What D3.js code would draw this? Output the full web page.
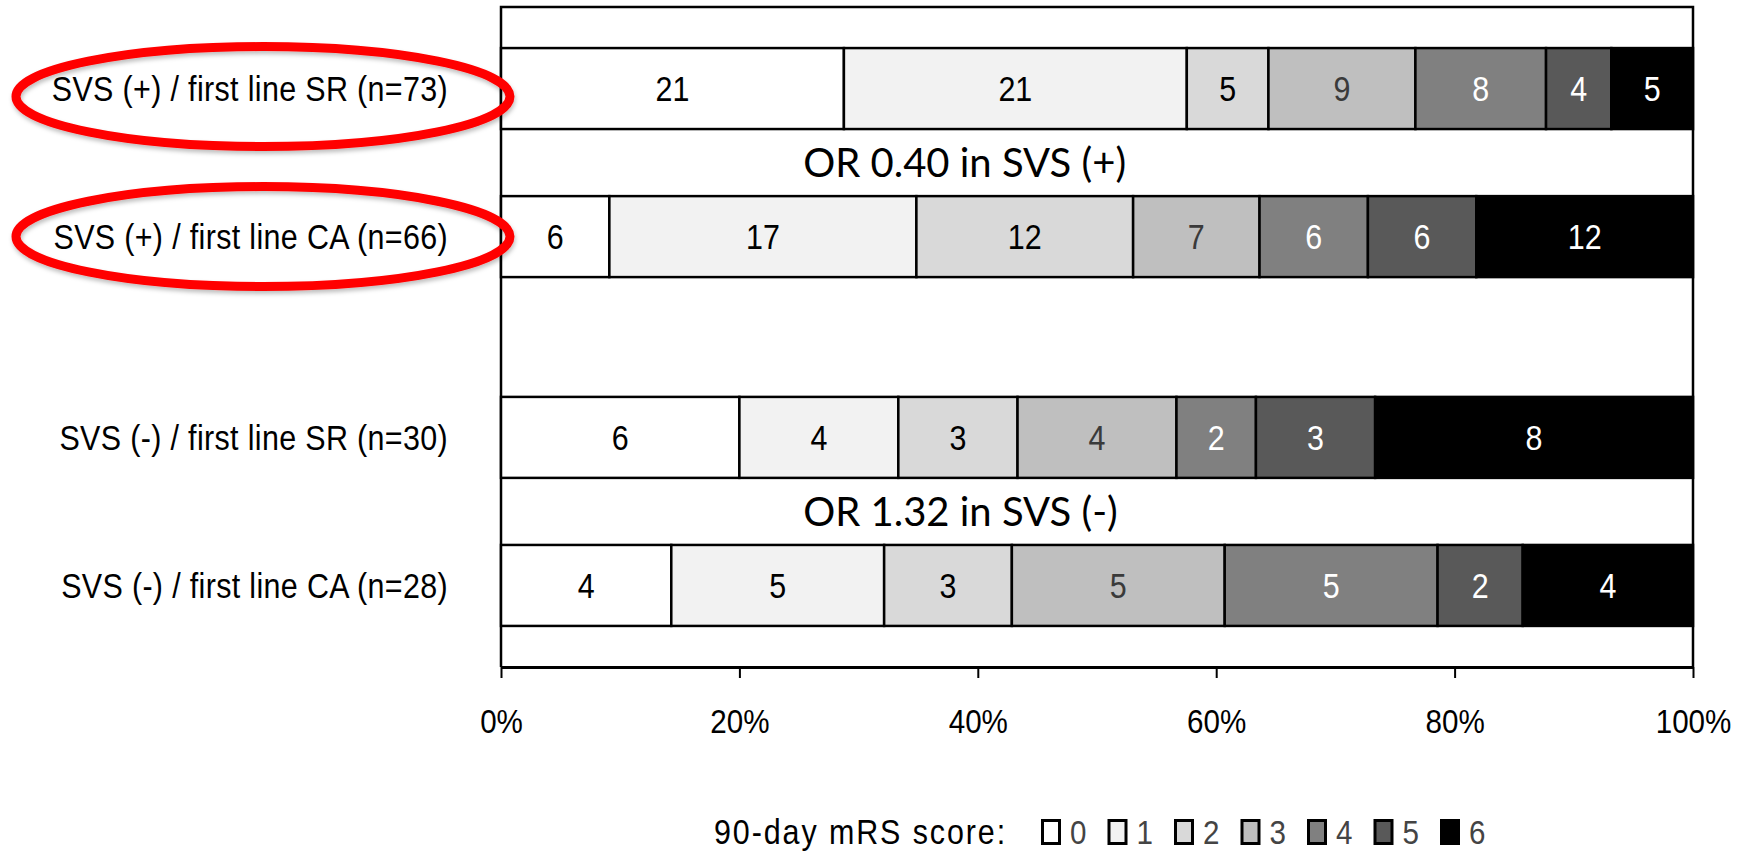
<!DOCTYPE html>
<html>
<head>
<meta charset="utf-8">
<script src="https://cdn.jsdelivr.net/npm/d3@7"></script>
<style>
  html, body { margin: 0; padding: 0; background: #ffffff; }
  svg { display: block; }
  .narrow { font-family: "Liberation Sans", Arial, sans-serif; }
</style>
</head>
<body>
<svg id="chart" width="1743" height="851"></svg>
<script>
// ---- data ----
const groups = ["SVS (+)", "SVS (-)"];
const treatments = ["SR", "CA"];
const categories = [
  "SVS (+) / first line SR (n=73)",
  "SVS (+) / first line CA (n=66)",
  "SVS (-) / first line SR (n=30)",
  "SVS (-) / first line CA (n=28)"
];
const rowGroup = ["SVS (+)", "SVS (+)", "SVS (-)", "SVS (-)"];
const rowTreatment = ["SR", "CA", "SR", "CA"];
const scores = ["0", "1", "2", "3", "4", "5", "6"];
const counts = [
  [21, 21, 5, 9, 8, 4, 5],
  [6, 17, 12, 7, 6, 6, 12],
  [6, 4, 3, 4, 2, 3, 8],
  [4, 5, 3, 5, 5, 2, 4]
];
const orTexts = ["OR 0.40 in SVS (+)", "OR 1.32 in SVS (-)"];
const highlighted = [true, true, false, false];
const xTicks = [0, 0.2, 0.4, 0.6, 0.8, 1.0];
const legendTitle = "90-day mRS score:";

// ---- styles ----
const fills = ["#ffffff", "#f2f2f2", "#d9d9d9", "#bfbfbf", "#808080", "#595959", "#000000"];
const labelColors = ["#000000", "#000000", "#000000", "#3a3a3a", "#ffffff", "#ffffff", "#ffffff"];
const SX = 0.87; // horizontal compression of the narrow chart font

const svg = d3.select("#chart");
const plotLeft = 501, plotRight = 1693, plotTop = 7, plotBottom = 667;

const x = d3.scaleLinear().domain([0, 1]).range([plotLeft, plotRight]);
const y0 = d3.scaleBand().domain(groups).range([plotTop, plotBottom])
  .paddingInner(0.2).paddingOuter(0.046);
const y1 = d3.scaleBand().domain(treatments).range([0, y0.bandwidth()])
  .paddingInner(0.453).paddingOuter(0.169);
const rowY = i => y0(rowGroup[i]) + y1(rowTreatment[i]);
const barH = y1.bandwidth();

const narrowAt = (px, py) => `translate(${px},${py}) scale(${SX},1)`;

// shadow filter for ellipses
const defs = svg.append("defs");
const f = defs.append("filter").attr("id", "sh").attr("x", "-10%").attr("y", "-20%").attr("width", "120%").attr("height", "150%");
f.append("feDropShadow").attr("dx", 1).attr("dy", 3).attr("stdDeviation", 2)
  .attr("flood-color", "#000").attr("flood-opacity", 0.25);

// plot frame (top, left, right)
svg.append("path")
  .attr("d", `M${plotLeft},${plotBottom}V${plotTop}H${plotRight}V${plotBottom}`)
  .attr("fill", "none").attr("stroke", "#000").attr("stroke-width", 2.5);

// stacked bars
const stacked = counts.map(row => {
  const total = d3.sum(row);
  let acc = 0;
  return row.map((v, k) => {
    const s = acc / total; acc += v;
    return { k, v, x0: s, x1: acc / total };
  });
});

const rows = svg.append("g").selectAll("g").data(stacked).join("g")
  .attr("transform", (d, i) => `translate(0,${rowY(i)})`);

rows.selectAll("rect").data(d => d).join("rect")
  .attr("x", d => x(d.x0))
  .attr("y", 0)
  .attr("width", d => x(d.x1) - x(d.x0))
  .attr("height", barH)
  .attr("fill", d => fills[d.k])
  .attr("stroke", "#000")
  .attr("stroke-width", 2.5);

rows.selectAll("text").data(d => d).join("text")
  .attr("class", "narrow")
  .attr("transform", d => narrowAt((x(d.x0) + x(d.x1)) / 2, barH / 2))
  .attr("dy", "0.36em")
  .attr("text-anchor", "middle")
  .attr("font-size", 35)
  .attr("fill", d => labelColors[d.k])
  .text(d => d.v);

// OR annotations between paired bars
groups.forEach((g, gi) => {
  const yTopBarBottom = y0(g) + y1("SR") + barH;
  const yNextTop = y0(g) + y1("CA");
  svg.append("text")
    .attr("x", x(0.2535))
    .attr("y", (yTopBarBottom + yNextTop) / 2)
    .attr("dy", "0.36em")
    .attr("font-family", "Lato, 'Liberation Sans', sans-serif")
    .attr("font-size", 40)
    .attr("fill", "#000")
    .text(orTexts[gi]);
});

// category labels
categories.forEach((c, i) => {
  svg.append("text")
    .attr("class", "narrow")
    .attr("transform", narrowAt(448, rowY(i) + barH / 2))
    .attr("dy", "0.36em")
    .attr("text-anchor", "end")
    .attr("font-size", 35)
    .attr("letter-spacing", 0.4)
    .attr("fill", "#000")
    .text(c);
});

// red ellipses around highlighted labels
categories.forEach((c, i) => {
  if (!highlighted[i]) return;
  svg.append("ellipse")
    .attr("cx", 263)
    .attr("cy", rowY(i) + barH / 2 + (i === 0 ? 8 : 0))
    .attr("rx", 247)
    .attr("ry", 50)
    .attr("fill", "none")
    .attr("stroke", "#ff0000")
    .attr("stroke-width", 9)
    .attr("filter", "url(#sh)");
});

// x axis
const xAxis = d3.axisBottom(x).tickValues(xTicks).tickFormat(d3.format(".0%"))
  .tickSize(11).tickSizeOuter(0);
const ax = svg.append("g").attr("transform", `translate(0,${plotBottom})`).call(xAxis);
ax.select(".domain").attr("stroke", "#000").attr("stroke-width", 3);
ax.selectAll(".tick line").attr("stroke", "#000").attr("stroke-width", 2);
ax.selectAll(".tick text")
  .attr("class", "narrow")
  .attr("font-family", null)
  .attr("font-size", 34)
  .attr("fill", "#000")
  .attr("y", 0)
  .attr("dy", "0.36em")
  .attr("transform", narrowAt(0, 54));

// legend
const lg = svg.append("g");
lg.append("text")
  .attr("class", "narrow")
  .attr("transform", narrowAt(714, 831))
  .attr("dy", "0.36em")
  .attr("font-size", 35)
  .attr("letter-spacing", 2.2)
  .attr("fill", "#000")
  .text(legendTitle);
const legendX = d3.scalePoint().domain(scores).range([1041, 1041 + 66.5 * 6]);
const items = lg.selectAll("g.item").data(scores).join("g").attr("class", "item")
  .attr("transform", d => `translate(${legendX(d)},819)`);
items.append("rect")
  .attr("x", 1.5).attr("y", 1.5).attr("width", 17).attr("height", 23)
  .attr("fill", (d, k) => fills[k])
  .attr("stroke", "#000").attr("stroke-width", 3);
items.append("text")
  .attr("class", "narrow")
  .attr("transform", narrowAt(29, 13))
  .attr("dy", "0.36em")
  .attr("font-size", 34)
  .attr("fill", "#444")
  .text(d => d);
</script>
</body>
</html>
